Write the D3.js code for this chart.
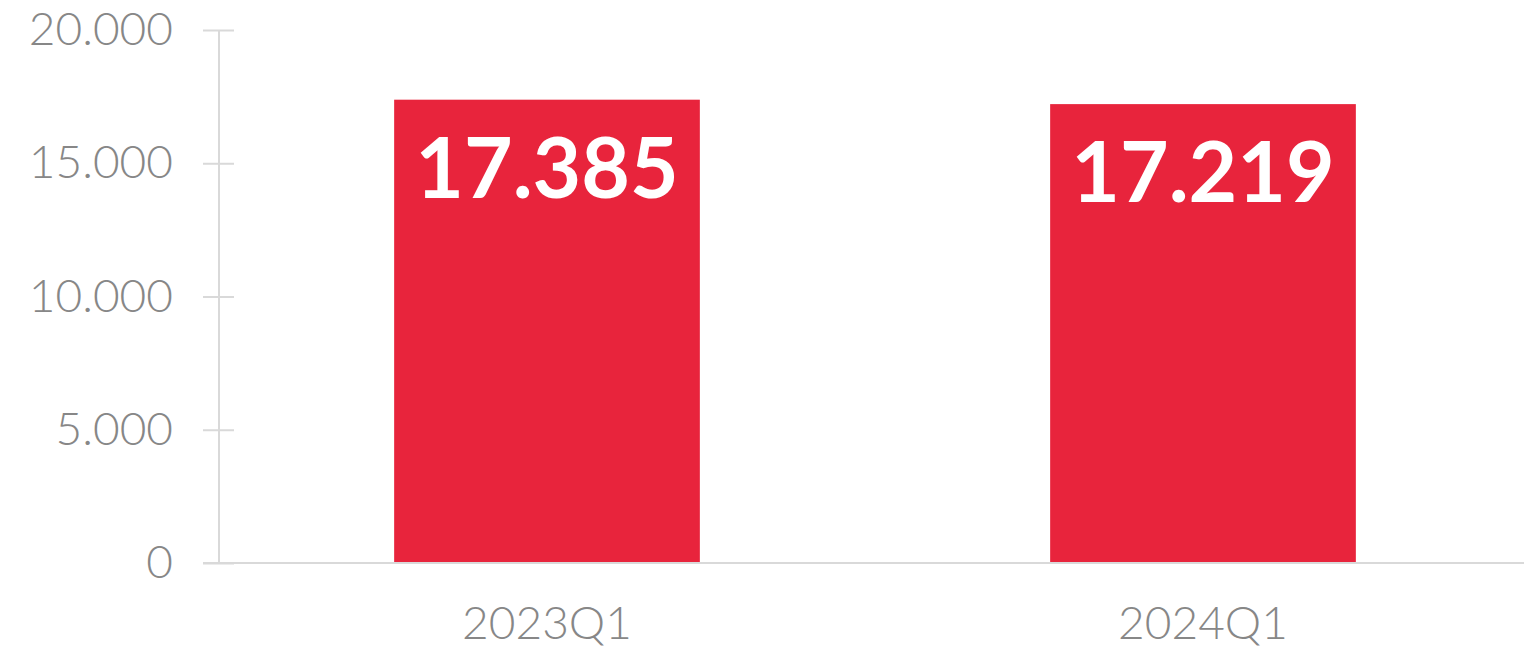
<!DOCTYPE html>
<html>
<head>
<meta charset="utf-8">
<script src="https://cdn.jsdelivr.net/npm/d3@7"></script>
<style>
  body { margin: 0; background: #fff; }
  svg { display: block; }
</style>
</head>
<body>
<div id="chartbox"></div>
<script>
const categories = ['2023Q1', '2024Q1']
const values = [17385, 17219]
const yTicks = [0, 5000, 10000, 15000, 20000]

const WIDTH = 1524
const HEIGHT = 653
const chart = {
  left: 219,
  right: 1531,
  top: 30,
  bottom: 563,
}

const red = '#e8243c'
const grey = '#878787'
const lineColor = '#d9d9d9'

// dots as thousands separator, like the original
const fmt = d => d3.format(',')(d).replace(/,/g, '.')

const svg = d3.select('#chartbox')
  .append('svg')
  .attr('width', WIDTH)
  .attr('height', HEIGHT)

const x = d3.scaleBand()
  .domain(categories)
  .range([chart.left, chart.right])
  .paddingInner(0.534)
  .paddingOuter(0.267)

const y = d3.scaleLinear()
  .domain([0, 20000])
  .range([chart.bottom, chart.top])

// bars
svg.selectAll('rect.bar')
  .data(values)
  .enter()
  .append('rect')
  .attr('class', 'bar')
  .attr('x', (d, i) => x(categories[i]))
  .attr('y', d => y(d))
  .attr('width', x.bandwidth())
  .attr('height', d => y(0) - y(d))
  .attr('fill', red)

// y axis
const yAxis = d3.axisLeft(y)
  .tickValues(yTicks)
  .tickFormat(fmt)
  .tickSize(16)

const gy = svg.append('g')
  .attr('transform', 'translate(' + chart.left + ',0)')
  .call(yAxis)
gy.select('.domain').remove()
gy.append('line')
  .attr('x1', 0).attr('x2', 0)
  .attr('y1', chart.top).attr('y2', chart.bottom)
  .attr('stroke', lineColor).attr('stroke-width', 2)
gy.selectAll('.tick line')
  .attr('stroke', lineColor)
  .attr('stroke-width', 2)
  .attr('x2', 15)
  .attr('x1', -16)
gy.selectAll('.tick text')
  .attr('fill', grey)
  .attr('font-family', 'Lato, sans-serif')
  .attr('font-weight', 300)
  .attr('font-size', 46)
  .attr('x', -46)

// x axis
const xAxis = d3.axisBottom(x).tickSize(0).tickPadding(43)
const gx = svg.append('g')
  .attr('transform', 'translate(0,' + chart.bottom + ')')
  .call(xAxis)
gx.select('.domain').remove()
gx.append('line')
  .attr('x1', chart.left - 16).attr('x2', WIDTH)
  .attr('y1', 0).attr('y2', 0)
  .attr('stroke', lineColor).attr('stroke-width', 2)
gx.selectAll('.tick text')
  .attr('fill', grey)
  .attr('font-family', 'Lato, sans-serif')
  .attr('font-weight', 300)
  .attr('font-size', 46)

// value labels inside the bars
svg.selectAll('text.value')
  .data(values)
  .enter()
  .append('text')
  .attr('class', 'value')
  .attr('x', (d, i) => x(categories[i]) + x.bandwidth() / 2)
  .attr('y', d => y(d) + 98)
  .attr('text-anchor', 'middle')
  .attr('fill', '#fff')
  .attr('font-family', 'Lato, sans-serif')
  .attr('font-weight', 700)
  .attr('font-size', 84)
  .text(fmt)
</script>
</body>
</html>
